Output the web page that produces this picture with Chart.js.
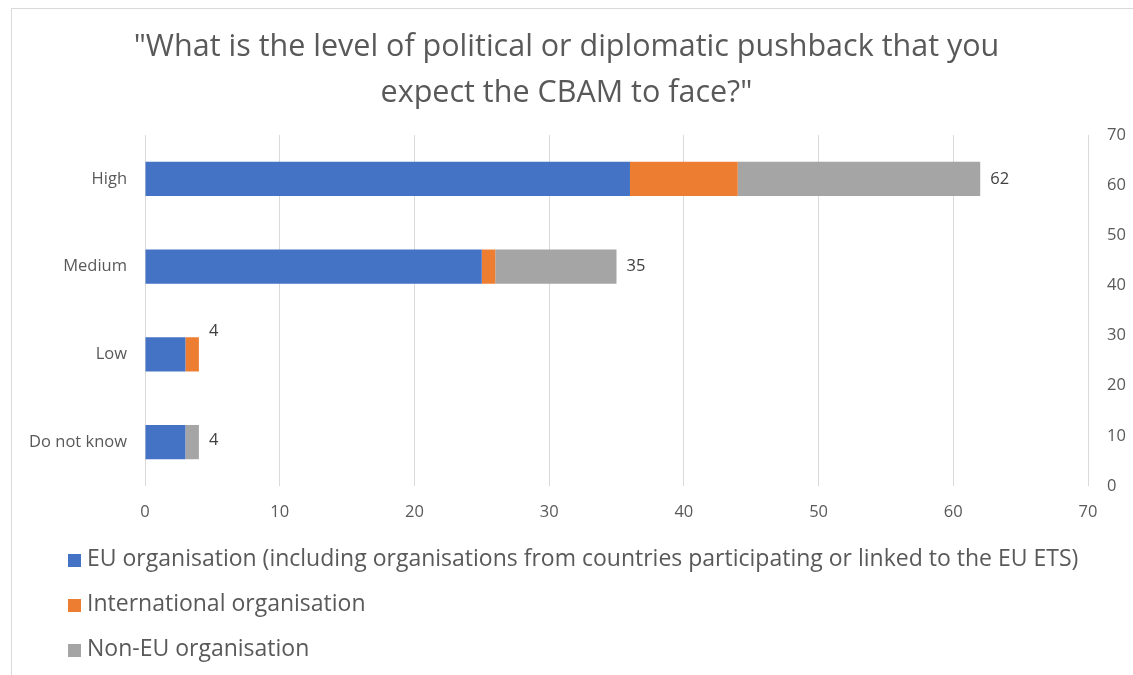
<!DOCTYPE html>
<html>
<head>
<meta charset="utf-8">
<script src="https://cdn.jsdelivr.net/npm/chart.js@4.4.1/dist/chart.umd.min.js"></script>
<style>
    html, body { margin: 0; padding: 0; background: #fff; }
    #wrap { position: relative; width: 1133px; height: 675px; overflow: hidden; }
    #frame { position: absolute; left: 11px; top: 8px; width: 1200px; height: 700px;
             border-left: 1px solid #d9d9d9; border-top: 1px solid #d9d9d9; }
    #chart { position: absolute; left: 0; top: 0; }
    #legend { position: absolute; left: 68px; top: 535px; margin: 0; padding: 0; list-style: none;
              font-family: 'Open Sans', Lato, sans-serif; font-size: 23px; color: #595959; }
    #legend li { height: 45px; line-height: 45px; white-space: nowrap; }
    #legend span.box { display: inline-block; width: 13px; height: 13px; margin-right: 6px; vertical-align: -1px; }
</style>
</head>
<body>
<div id="wrap">
    <div id="frame"></div>
    <canvas id="chart" width="1133" height="675"></canvas>
    <ul id="legend"></ul>
</div>
<script>
// --- Data ---
const titleLines = ['"What is the level of political or diplomatic pushback that you', 'expect the CBAM to face?"'];
const categories = ['High', 'Medium', 'Low', 'Do not know'];
const seriesNames = [
    'EU organisation (including organisations from countries participating or linked to the EU ETS)',
    'International organisation',
    'Non-EU organisation'
];
const euValues = [36, 25, 3, 3];
const internationalValues = [8, 1, 1, 0];
const nonEuValues = [18, 9, 0, 1];
const axisTicks = [0, 10, 20, 30, 40, 50, 60, 70];

const colors = ['#4472c4', '#ed7d31', '#a5a5a5'];
const textColor = '#595959';
const gridColor = '#d9d9d9';
const fontFamily = "'Open Sans', Lato, sans-serif";

// totals drawn at the end of each bar (Low's label sits a bit higher, like the original)
const totalsPlugin = {
    id: 'totals',
    afterDatasetsDraw(chart) {
        const { ctx, scales } = chart;
        const lift = [0, 0, 23, 2];
        ctx.save();
        ctx.font = '16.5px ' + fontFamily;
        ctx.fillStyle = '#404040';
        ctx.textAlign = 'left';
        ctx.textBaseline = 'middle';
        categories.forEach((c, i) => {
            const total = chart.data.datasets.reduce((s, d) => s + d.data[i], 0);
            const x = scales.x.getPixelForValue(total) + 10;
            const y = scales.y.getPixelForValue(i) - lift[i];
            ctx.fillText(String(total), x, y);
        });
        ctx.restore();
    }
};

const ctx = document.getElementById('chart').getContext('2d');
const chart = new Chart(ctx, {
    type: 'bar',
    data: {
        labels: categories,
        datasets: [euValues, internationalValues, nonEuValues].map((vals, i) => ({
            label: seriesNames[i],
            data: vals,
            backgroundColor: colors[i],
            borderWidth: 0,
            barPercentage: 0.39,
            categoryPercentage: 1
        }))
    },
    options: {
        indexAxis: 'y',
        responsive: false,
        animation: false,
        layout: { padding: { left: 0, right: 0, top: 0, bottom: 149 } },
        plugins: {
            legend: { display: false },
            tooltip: { enabled: false },
            title: {
                display: true,
                text: titleLines,
                color: textColor,
                font: { family: fontFamily, size: 30.5, weight: 'normal', lineHeight: 46 / 30.5 },
                padding: { top: 24, bottom: 19 }
            }
        },
        scales: {
            x: {
                stacked: true,
                min: 0, max: 70,
                afterBuildTicks: s => { s.ticks = axisTicks.map(v => ({ value: v })); },
                afterFit: s => { s.height = 40; },
                grid: { color: gridColor, drawTicks: false },
                border: { display: false },
                ticks: { color: textColor, font: { family: fontFamily, size: 16.5 }, padding: 16 }
            },
            y: {
                stacked: true,
                afterFit: s => { s.width = 145; },
                grid: { display: false, drawTicks: false },
                border: { display: false },
                ticks: { color: textColor, font: { family: fontFamily, size: 16.5 }, padding: 18 }
            },
            y2: {
                type: 'linear',
                position: 'right',
                offset: false,
                min: 0, max: 70,
                afterBuildTicks: s => { s.ticks = axisTicks.map(v => ({ value: v })); },
                afterFit: s => { s.width = 45; },
                grid: { display: false, drawTicks: false, offset: false },
                border: { display: false },
                ticks: { color: textColor, font: { family: fontFamily, size: 16.5 }, padding: 19 }
            }
        }
    },
    plugins: [totalsPlugin]
});

// legend as a vertical list, built from the chart datasets
const legendEl = document.getElementById('legend');
chart.data.datasets.forEach(ds => {
    const li = document.createElement('li');
    const box = document.createElement('span');
    box.className = 'box';
    box.style.background = ds.backgroundColor;
    li.appendChild(box);
    li.appendChild(document.createTextNode(ds.label));
    legendEl.appendChild(li);
});
</script>
</body>
</html>
